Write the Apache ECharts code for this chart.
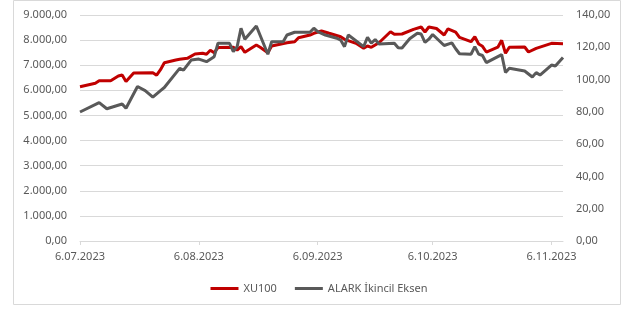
<!DOCTYPE html>
<html>
<head>
<meta charset="utf-8">
<script src="https://cdn.jsdelivr.net/npm/echarts@6/dist/echarts.min.js"></script>
<style>
  html, body { margin: 0; padding: 0; background: #fff; }
  #chart { width: 638px; height: 309px; }
</style>
</head>
<body>
<div id="chart"></div>
<script>
// XU100 (sol eksen)
var xuDates = ['2023-07-06','2023-07-10','2023-07-11','2023-07-14','2023-07-16','2023-07-17','2023-07-18','2023-07-20',
  '2023-07-25','2023-07-26','2023-07-27','2023-07-28','2023-07-31','2023-08-01','2023-08-03','2023-08-05','2023-08-07',
  '2023-08-08','2023-08-09','2023-08-10','2023-08-11','2023-08-15','2023-08-16','2023-08-17','2023-08-18','2023-08-21',
  '2023-08-22','2023-08-24','2023-08-25','2023-08-29','2023-08-31','2023-09-01','2023-09-04','2023-09-05','2023-09-07',
  '2023-09-09','2023-09-12','2023-09-13','2023-09-16','2023-09-18','2023-09-19','2023-09-20','2023-09-22','2023-09-25',
  '2023-09-26','2023-09-28','2023-10-01','2023-10-03','2023-10-04','2023-10-05','2023-10-07','2023-10-09','2023-10-10',
  '2023-10-12','2023-10-13','2023-10-16','2023-10-17','2023-10-18','2023-10-19','2023-10-20','2023-10-23','2023-10-24',
  '2023-10-25','2023-10-26','2023-10-30','2023-10-31','2023-11-02','2023-11-06','2023-11-09'];
var xuValues = [6145,6280,6379,6380,6570,6610,6351,6690,
  6702,6602,6821,7100,7207,7235,7275,7446,7474,
  7438,7594,7498,7705,7713,7606,7737,7514,7805,
  7713,7498,7765,7896,7936,8095,8203,8271,8362,
  8271,8135,8032,7872,7673,7765,7713,7896,8334,
  8231,8243,8430,8521,8322,8521,8462,8203,8450,
  8322,8111,7936,8135,7845,7753,7526,7717,7992,
  7474,7717,7725,7526,7673,7872,7857];

// ALARK (ikincil eksen)
var alarkDates = ['2023-07-06','2023-07-11','2023-07-13','2023-07-17','2023-07-18','2023-07-21','2023-07-23','2023-07-25',
  '2023-07-27','2023-07-28','2023-08-01','2023-08-02','2023-08-04','2023-08-06','2023-08-08','2023-08-10','2023-08-11',
  '2023-08-14','2023-08-15','2023-08-16','2023-08-17','2023-08-18','2023-08-21','2023-08-24','2023-08-25','2023-08-28',
  '2023-08-29','2023-08-31','2023-09-04','2023-09-05','2023-09-06','2023-09-08','2023-09-11','2023-09-12','2023-09-13',
  '2023-09-14','2023-09-18','2023-09-19','2023-09-20','2023-09-21','2023-09-22','2023-09-26','2023-09-27','2023-09-28',
  '2023-09-30','2023-10-02','2023-10-03','2023-10-04','2023-10-05','2023-10-06','2023-10-09','2023-10-11','2023-10-12',
  '2023-10-13','2023-10-16','2023-10-17','2023-10-18','2023-10-19','2023-10-20','2023-10-24','2023-10-25','2023-10-26',
  '2023-10-30','2023-11-01','2023-11-02','2023-11-03','2023-11-06','2023-11-07','2023-11-09'];
var alarkValues = [79.9,85.7,81.9,84.9,82.2,95.7,93.2,89.1,
  93.2,95.1,106.9,105.9,112.1,112.7,111.1,114.2,122.5,
  122.5,117.3,120.4,131.8,125.0,133.2,115.7,123.5,123.5,
  127.6,129.3,129.3,131.8,129.7,127.6,125.6,124.5,120.4,
  127.6,120.4,126.2,122.5,124.8,122.0,122.5,119.7,119.6,
  125.3,128.7,128.2,123.0,125.0,127.9,121.1,122.7,119.1,
  116.0,115.7,120.4,115.8,114.9,110.5,115.5,104.4,107.0,
  105.3,101.6,104.3,102.8,109.0,108.4,113.7];

var xTickDates = ['2023-07-06','2023-08-06','2023-09-06','2023-10-06','2023-11-06'];

function toTime(s) {
  var p = s.split('-');
  return Date.UTC(+p[0], +p[1] - 1, +p[2]);
}
function trNum(v) {
  var parts = v.toFixed(2).split('.');
  return parts[0].replace(/\B(?=(\d{3})+(?!\d))/g, '.') + ',' + parts[1];
}
function pairs(dates, vals) {
  return dates.map(function (d, i) { return [toTime(d), vals[i]]; });
}
function fmtDate(v) {
  var d = new Date(v);
  var m = d.getUTCMonth() + 1;
  return d.getUTCDate() + '.' + (m < 10 ? '0' + m : m) + '.' + d.getUTCFullYear();
}

var tickTimes = xTickDates.map(toTime);
var txt = '#595959';
var font = 'Noto Sans';

var myChart = echarts.init(document.getElementById('chart'));
var option = {
  animation: false,
  textStyle: { fontFamily: font },
  graphic: [{
    type: 'rect',
    shape: { x: 13.5, y: 0.5, width: 607, height: 304 },
    style: { fill: 'none', stroke: '#d9d9d9', lineWidth: 1 },
    silent: true
  }],
  grid: { left: 80, right: 75, top: 15, bottom: 68 },
  legend: {
    left: 'center',
    top: 278,
    icon: 'rect',
    itemWidth: 28,
    itemHeight: 3,
    itemGap: 18,
    textStyle: { color: txt, fontSize: 11, fontFamily: font },
    data: ['XU100', 'ALARK İkincil Eksen']
  },
  xAxis: {
    type: 'value',
    min: toTime('2023-07-06'),
    max: toTime('2023-11-09'),
    axisLine: { show: true, onZero: false, lineStyle: { color: '#d9d9d9' } },
    axisTick: { show: true, customValues: tickTimes, length: 4, lineStyle: { color: '#d9d9d9' } },
    splitLine: { show: false },
    axisLabel: {
      customValues: tickTimes,
      color: txt,
      fontSize: 11,
      fontFamily: font,
      margin: 10,
      hideOverlap: false,
      formatter: fmtDate
    }
  },
  yAxis: [{
    type: 'value',
    min: 0,
    max: 9000,
    interval: 1000,
    axisLine: { show: false },
    axisTick: { show: false },
    splitLine: { lineStyle: { color: '#d9d9d9' } },
    axisLabel: { color: txt, fontSize: 11, fontFamily: font, margin: 13, formatter: trNum }
  }, {
    type: 'value',
    min: 0,
    max: 140,
    interval: 20,
    axisLine: { show: false },
    axisTick: { show: false },
    splitLine: { show: false },
    axisLabel: { color: txt, fontSize: 11, fontFamily: font, margin: 13, formatter: trNum }
  }],
  series: [{
    name: 'XU100',
    type: 'line',
    yAxisIndex: 0,
    showSymbol: false,
    color: '#C00000',
    lineStyle: { width: 3, color: '#C00000' },
    z: 2,
    data: pairs(xuDates, xuValues)
  }, {
    name: 'ALARK İkincil Eksen',
    type: 'line',
    yAxisIndex: 1,
    showSymbol: false,
    color: '#595959',
    lineStyle: { width: 3, color: '#595959' },
    z: 3,
    data: pairs(alarkDates, alarkValues)
  }]
};
myChart.setOption(option);
</script>
</body>
</html>
